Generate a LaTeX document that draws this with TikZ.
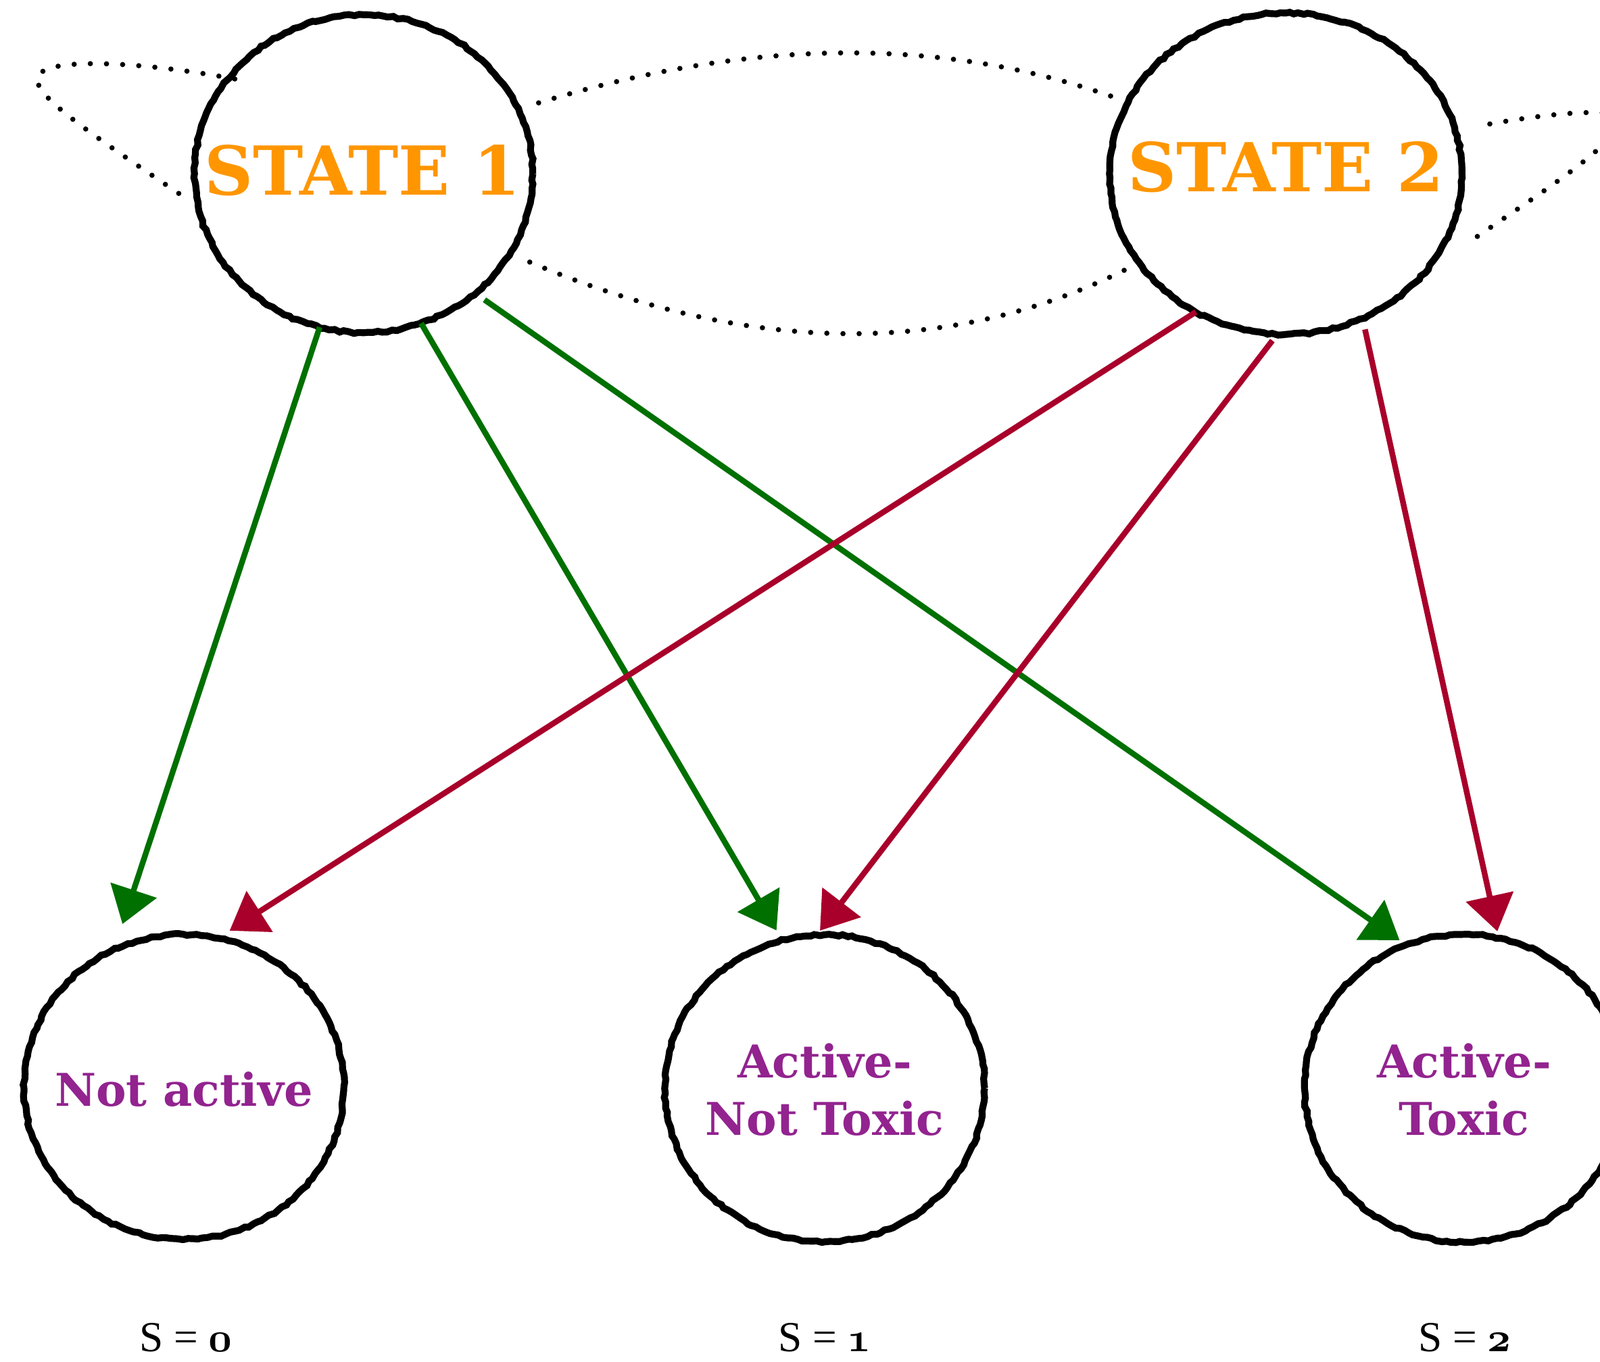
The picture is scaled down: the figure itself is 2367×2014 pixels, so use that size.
\documentclass[tikz,border=0pt]{standalone}
\usepackage{fontspec}
\newfontfamily\labfont{DejaVu Serif}
\newfontfamily\sfontfam{Liberation Serif}
\usetikzlibrary{shapes.geometric,arrows.meta,decorations.pathmorphing,calc}
\definecolor{stateorange}{RGB}{255,150,0}
\definecolor{outpurple}{RGB}{146,35,143}
\definecolor{arrgreen}{RGB}{0,112,0}
\definecolor{arrred}{RGB}{168,0,42}
\newcommand\osn[1]{{\usefont{OML}{cmm}{b}{it}#1}}
\begin{document}
\begin{tikzpicture}[x=0.01cm,y=-0.01cm,
  roughcirc/.style={ellipse, draw=black, line width=2.9pt, inner sep=0pt, outer sep=0pt,
    decorate, decoration={random steps, segment length=2pt, amplitude=0.4pt}},
  statetext/.style={font=\labfont\bfseries\fontsize{28.4}{30}\selectfont, text=stateorange, inner sep=0pt},
  outtext/.style={font=\labfont\bfseries\fontsize{19}{24.2}\selectfont, text=outpurple, align=center, inner sep=0pt},
  stext/.style={font=\sfontfam\fontsize{18}{20}\selectfont, inner sep=0pt, anchor=base},
  garrow/.style={draw=arrgreen, fill=arrgreen, line width=2.4pt, -{Triangle[length=15pt,width=20pt]}},
  rarrow/.style={draw=arrred, fill=arrred, line width=2.4pt, -{Triangle[length=15pt,width=20pt]}},
  dotline/.style={line width=2.2pt, dash pattern=on 0pt off 6.8pt, line cap=round}
]
\useasboundingbox (0,0) rectangle (2367,2014);
\clip (0,0) rectangle (2367,2014);

% circles
\node[roughcirc, minimum width=5cm, minimum height=4.7cm] (s1) at (538,257) {};
\node[roughcirc, minimum width=5.21cm, minimum height=4.75cm] (s2) at (1902,257) {};
\node[roughcirc, minimum width=4.73cm, minimum height=4.51cm] (na) at (272,1608) {};
\node[roughcirc, minimum width=4.73cm, minimum height=4.54cm] (nt) at (1220,1610) {};
\node[roughcirc, minimum width=4.72cm, minimum height=4.55cm] (tox) at (2166,1610) {};

% texts
\node[statetext] (t1) at (536,252) {STATE 1};
\node[statetext] (t2) at (1902,247) {STATE 2};
\node[outtext] (tna) at (272,1612) {Not active};
\node[outtext] (tnt) at (1220,1612) {Active-\\Not Toxic};
\node[outtext] (ttox) at (2166,1612) {Active-\\Toxic};
\node[stext] (sa) at (275,1999) {S = \osn{0}};
\node[stext] (sb) at (1220,1999) {S = \osn{1}};
\node[stext] (sc) at (2167,1999) {S = \osn{2}};

% arrows
\draw[garrow, shorten >=11.4pt] (s1.-106) -- (na.117);
\draw[garrow, shorten >=4.8pt] (s1.-69) -- (nt.106);
\draw[garrow, shorten <=4.8pt, shorten >=3.4pt] (s1.-47) -- (tox.112);
\draw[rarrow, shorten >=5.7pt] (s2.-123) -- (na.77);
\draw[rarrow, shorten <=3.4pt, shorten >=2.3pt] (s2.-93) -- (nt.93);
\draw[rarrow, shorten <=4.8pt, shorten >=2.9pt] (s2.-62) -- (tox.77);

% dotted transitions
\draw[dotline] ([shift={(29,-12)}]s1.22) .. controls (1111,56) and (1394,54) .. ([shift={(-20,-9)}]s2.156);
\draw[dotline] ([shift={(28,15)}]s1.-28) .. controls (1108,525) and (1403,529) .. ([shift={(-19,11)}]s2.-149);
\draw[dotline] ([shift={(-25,3)}]s1.186) .. controls (130,195) and (48,140) .. (56,115)
  .. controls (60,85) and (200,88) .. ([shift={(17,13)}]s1.142);
\draw[dotline] ([shift={(38,13)}]s2.-18) .. controls (2280,285) and (2390,215) .. (2400,175)
  .. controls (2390,160) and (2300,165) .. ([shift={(29,-7)}]s2.14);
\end{tikzpicture}
\end{document}
